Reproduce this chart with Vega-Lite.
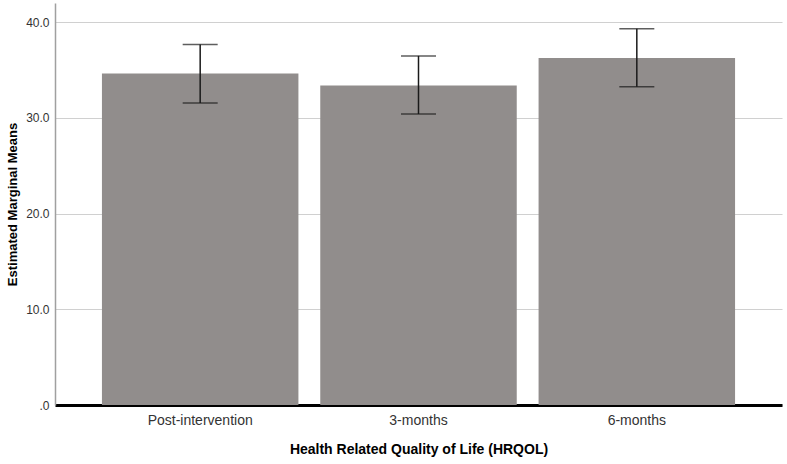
{
  "$schema": "https://vega.github.io/schema/vega-lite/v6.json",
  "autosize": "none",
  "width": 727,
  "height": 402,
  "padding": {"left": 55, "top": 3, "right": 5, "bottom": 59},
  "background": "white",
  "config": {
    "view": {"stroke": null},
    "font": "Liberation Sans"
  },
  "data": {
    "values": [
      {"time": "Post-intervention", "mean": 34.63, "lo": 31.55, "hi": 37.66},
      {"time": "3-months", "mean": 33.37, "lo": 30.40, "hi": 36.47},
      {"time": "6-months", "mean": 36.26, "lo": 33.26, "hi": 39.30}
    ]
  },
  "encoding": {
    "x": {
      "field": "time",
      "type": "nominal",
      "sort": null,
      "scale": {"paddingInner": 0.1, "paddingOuter": 0.215},
      "axis": {
        "title": "Health Related Quality of Life (HRQOL)",
        "titleFont": "Liberation Sans",
        "titleFontSize": 14,
        "titleFontWeight": "bold",
        "titleColor": "#000000",
        "titlePadding": 15,
        "labelAngle": 0,
        "labelFontSize": 14,
        "labelColor": "#333333",
        "labelPadding": 8,
        "ticks": false,
        "domainColor": "#000000",
        "domainWidth": 3,
        "grid": false
      }
    }
  },
  "layer": [
    {
      "mark": {"type": "bar", "color": "#918d8c"},
      "encoding": {
        "y": {
          "field": "mean",
          "type": "quantitative",
          "scale": {"domain": [0, 42], "nice": false},
          "axis": {
            "title": "Estimated Marginal Means",
            "titleFont": "Liberation Sans",
            "titleFontSize": 13,
            "titleFontWeight": "bold",
            "titleColor": "#000000",
            "titlePadding": 6,
            "values": [0, 10, 20, 30, 40],
            "labelExpr": "datum.value == 0 ? '.0' : format(datum.value, '.1f')",
            "labelFontSize": 12,
            "labelColor": "#333333",
            "labelPadding": 6,
            "ticks": false,
            "domainColor": "#a0a0a0",
            "domainWidth": 1.5,
            "grid": true,
            "gridColor": "#d0d0d0",
            "gridWidth": 1.2
          }
        }
      }
    },
    {
      "mark": {"type": "rule", "color": "#1a1a1a", "strokeWidth": 1.5},
      "encoding": {
        "y": {"field": "lo", "type": "quantitative"},
        "y2": {"field": "hi"}
      }
    },
    {
      "mark": {"type": "tick", "color": "#1a1a1a", "thickness": 1.5, "size": 35},
      "encoding": {
        "y": {"field": "lo", "type": "quantitative"}
      }
    },
    {
      "mark": {"type": "tick", "color": "#1a1a1a", "thickness": 1.5, "size": 35},
      "encoding": {
        "y": {"field": "hi", "type": "quantitative"}
      }
    }
  ]
}
